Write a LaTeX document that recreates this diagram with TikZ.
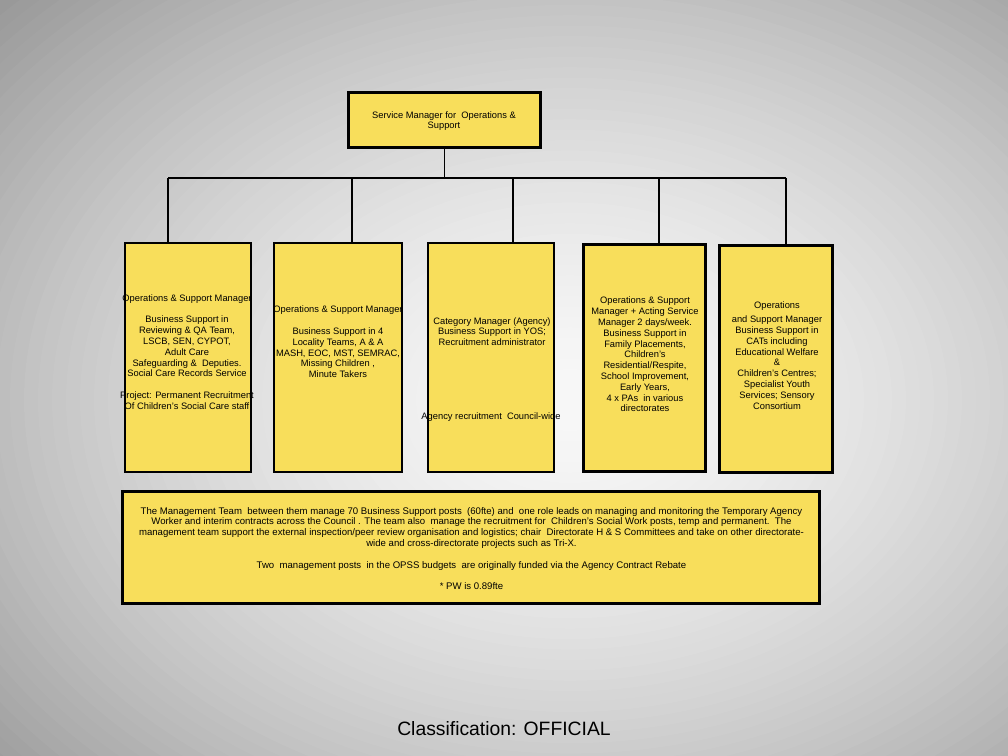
\documentclass[tikz,border=0pt]{standalone}
\usepackage{fontspec}
\setmainfont{Liberation Sans}
\definecolor{boxfill}{HTML}{F8DE5B}
\tikzset{
  thinbox/.style={draw=black, fill=boxfill, line width=0.8pt, rectangle, inner sep=0pt, outer sep=0pt},
  thickbox/.style={draw=black, fill=boxfill, line width=2.4pt, rectangle, inner sep=0pt, outer sep=0pt},
  txt/.style={align=center, inner sep=0pt, font=\fontsize{7}{8.1}\selectfont},
  notetxt/.style={align=center, inner sep=0pt, font=\fontsize{7.2}{8.1}\selectfont},
  link/.style={draw=black, line width=0.8pt}
}
\begin{document}
\begin{tikzpicture}[x=0.75pt, y=-0.75pt]
\useasboundingbox (0,0) rectangle (1008,756);
% background: radial grey gradient built from concentric ellipses
\begin{scope}
  \clip (0,0) rectangle (1008,756);
  \definecolor{bgedge}{gray}{0.6}
  \fill[bgedge] (0,0) rectangle (1008,756);
  \foreach \i in {60,59,...,1} {
    \pgfmathsetmacro\dd{\i/60*1.2}
    \pgfmathsetmacro\gg{max(0.6, 0.97-0.37*pow(\dd/1.12,1.6))}
    \pgfmathsetmacro\rx{\dd*700}
    \pgfmathsetmacro\ry{\dd*520}
    \definecolor{bgtmp}{gray}{\gg}
    \fill[bgtmp] (570,400) ellipse [x radius=\rx, y radius=\ry];
  }
\end{scope}

% boxes
\node[thickbox, minimum width=144pt, minimum height=41.25pt] (top) at (444.5,120) {};
\node[thinbox, minimum width=94.5pt, minimum height=171.75pt] (b1) at (188,357.5) {};
\node[thinbox, minimum width=96pt, minimum height=171.75pt] (b2) at (338,357.5) {};
\node[thinbox, minimum width=94.5pt, minimum height=171.75pt] (b3) at (491,357.5) {};
\node[thickbox, minimum width=91.5pt, minimum height=170.25pt] (b4) at (644.5,358) {};
\node[thickbox, minimum width=84.75pt, minimum height=170.25pt] (b5) at (776,359) {};
\node[thickbox, minimum width=522.75pt, minimum height=84pt] (note) at (471,547.5) {};

% connectors
\coordinate (d1) at (168,178);
\coordinate (d2) at (352,178);
\coordinate (d3) at (513,178);
\coordinate (d4) at (659,178);
\coordinate (d5) at (786,178);
\draw[link] (top.south) -- (top.south |- d1);
\draw[link] (d1) -- (d5);
\draw[link] (d1) -- (d1 |- b1.north);
\draw[link] (d2) -- (d2 |- b2.north);
\draw[link] (d3) -- (d3 |- b3.north);
\draw[link] (d4) -- (d4 |- b4.north);
\draw[link] (d5) -- (d5 |- b5.north);

% texts
\node[txt] (ttop) at (444,121) {Service Manager for\ \ Operations \&\\Support};
\node[txt] (t1) at (187,352) {Operations \& Support Manager\\[8.1pt]
Business Support in\\Reviewing \& QA Team,\\LSCB, SEN, CYPOT,\\Adult Care\\Safeguarding \&\ \ Deputies.\\Social Care Records Service\\[8.1pt]
Project: Permanent Recruitment\\Of Children's Social Care staff};
\node[txt] (t2) at (338,342) {Operations \& Support Manager\\[8.1pt]
Business Support in 4\\Locality Teams, A \& A\\MASH, EOC, MST, SEMRAC,\\Missing Children ,\\Minute Takers};
\node[txt] (t3a) at (492,331.5) {Category Manager (Agency)\\Business Support in YOS;\\Recruitment administrator};
\node[txt] (t3b) at (491,417) {Agency recruitment\ \ Council-wide};
\node[txt] (t4) at (645,354.5) {Operations \& Support\\Manager + Acting Service\\Manager 2 days/week.\\Business Support in\\Family Placements,\\Children's\\Residential/Respite,\\School Improvement,\\Early Years,\\4 x PAs\ \ in various\\directorates};
\node[txt] (t5) at (777,355.5) {Operations\\[2.5pt]and Support Manager\\Business Support in\\CATs including\\Educational Welfare\\\&\\Children's Centres;\\Specialist Youth\\Services; Sensory\\Consortium};
\node[notetxt] (tnote) at (471.5,548.5) {The Management Team\ \ between them manage 70 Business Support posts\ \ (60fte) and\ \ one role leads on managing and monitoring the Temporary Agency\\
Worker and interim contracts across the Council . The team also\ \ manage the recruitment for\ \ Children's Social Work posts, temp and permanent.\ \ The\\
management team support the external inspection/peer review organisation and logistics; chair\ \ Directorate H \& S Committees and take on other directorate-\\
wide and cross-directorate projects such as Tri-X.\\[8.1pt]
Two\ \ management posts\ \ in the OPSS budgets\ \ are originally funded via the Agency Contract Rebate\\[8.1pt]
* PW is 0.89fte};

\node[inner sep=0pt, font=\fontsize{14.5}{17}\selectfont] (cls) at (504,729) {Classification: OFFICIAL};
\end{tikzpicture}
\end{document}
